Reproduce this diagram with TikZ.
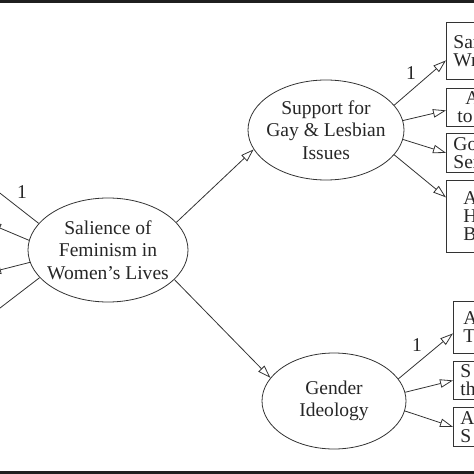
\documentclass[tikz,border=0pt]{standalone}
\usepackage{fontspec}
\setmainfont{Liberation Serif}
\usetikzlibrary{arrows.meta,shapes.geometric}

\begin{document}
\begin{tikzpicture}[
    x=1bp, y=-1bp,
    every node/.style={font=\fontsize{19.6}{22.6}\selectfont, text=black!85},
    latent/.style={ellipse, draw=black!80, line width=0.8bp, inner sep=-8bp, align=center},
    obs/.style={rectangle, draw=black!80, line width=0.8bp, anchor=north west,
      minimum width=90bp, text width=76bp, inner xsep=7bp, align=left,
      font=\fontsize{19.6}{18}\selectfont},
    path/.style={-{Triangle[open, length=13bp, width=8.5bp]}, draw=black!80, line width=0.8bp}
  ]
  \useasboundingbox (0,0) rectangle (474,474);
  \clip (0,0) rectangle (474,474);

  % Полосы сверху и снизу
  \fill[black!88] (0,0) rectangle (474,2.7);
  \fill[black!88] (0,471) rectangle (474,474);

  % Латентные переменные
  \node[latent, minimum width=160bp, minimum height=104bp] (sal) at (108,250)
    {Salience of\\Feminism in\\Women's Lives};
  \node[latent, minimum width=156bp, minimum height=100bp] (sup) at (326,130)
    {Support for\\Gay \& Lesbian\\Issues};
  \node[latent, minimum width=144bp, minimum height=96bp] (gen) at (334,401)
    {Gender\\Ideology};

  % Индикаторы
  \node[obs, minimum height=57bp] (s1) at (446,22) {Sam\\Wr};
  \node[obs, minimum height=38bp] (s2) at (446,88) {\hspace*{12bp}A\\\hspace*{4bp}to};
  \node[obs, minimum height=39bp] (s3) at (446,133) {Go\\Sex};
  \node[obs, minimum height=72bp] (s4) at (446,180)
    {\hspace*{10bp}A\\\hspace*{10bp}H\\\hspace*{10bp}B};
  \node[obs, minimum height=52bp] (g1) at (453,301) {\hspace*{3bp}A\\\hspace*{3bp}T};
  \node[obs, minimum height=38bp] (g2) at (453,361) {S\\th};
  \node[obs, minimum height=39bp] (g3) at (453,407) {A\\S};

  % Индикаторы слева (за краем)
  \coordinate (l1) at (-13,183);
  \coordinate (l2) at (-12,223);
  \coordinate (l3) at (-12,273);
  \coordinate (l4) at (-13,318);

  % Стрелки
  \draw[path] (sal.22) -- (sup.195);
  \draw[path] (sal.336) -- (gen.160);
  \draw[path] (sal.159) -- (l1);
  \draw[path] (sal.173) -- (l2);
  \draw[path] (sal.189) -- (l3);
  \draw[path] (sal.202) -- (l4);

  \draw[path] (sup.20) -- ([yshift=-9.5bp]s1.west);
  \draw[path] (sup.7.5) -- ([yshift=-3bp]s2.west);
  \draw[path] (sup.-7.5) -- (s3.west);
  \draw[path] (sup.-20) -- ([yshift=19bp]s4.west);

  \draw[path] (gen.19) -- ([yshift=-6bp]g1.west);
  \draw[path] (gen.7) -- (g2.west);
  \draw[path] (gen.-8.5) -- (g3.west);

  % Фиксированные нагрузки
  \node (one1) at (22,192) {1};
  \node (one2) at (411,73) {1};
  \node (one3) at (417,345) {1};
\end{tikzpicture}
\end{document}
